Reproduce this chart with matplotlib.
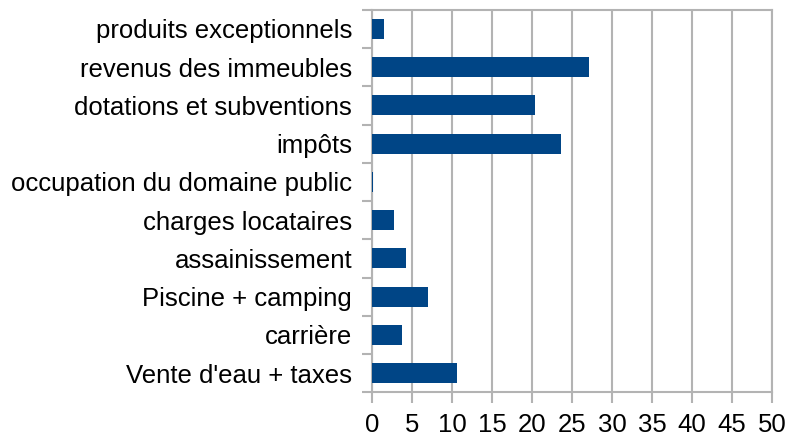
import matplotlib
matplotlib.use('Agg')
from matplotlib import pyplot as plt

# données (de bas en haut)
categories = ["Vente d'eau + taxes", "carrière", "Piscine + camping", "assainissement",
              "charges locataires", "occupation du domaine public", "impôts",
              "dotations et subventions", "revenus des immeubles", "produits exceptionnels"]
values = [10.6, 3.8, 6.95, 4.2, 2.7, 0.1, 23.6, 20.35, 27.1, 1.45]
x_ticks = [0, 5, 10, 15, 20, 25, 30, 35, 40, 45, 50]

plt.rcParams['font.family'] = ['Liberation Sans', 'DejaVu Sans']

fig = plt.figure(figsize=(7.87, 4.4), dpi=100)
ax = fig.add_axes([0.4727, 0.1084, 0.5084, 0.8694])

pos = list(range(len(categories)))
ax.barh(pos, values, height=0.52, color='#004586', zorder=3)

ax.set_xlim(0, 50)
ax.set_ylim(-0.5, len(categories) - 0.5)
ax.set_xticks(x_ticks)
ax.set_xticklabels([str(t) for t in x_ticks], fontsize=18.5)
ax.set_yticks(pos)
ax.set_yticklabels(categories, fontsize=18.5)

# petits traits entre les catégories
ax.set_yticks([p - 0.5 for p in pos] + [len(categories) - 0.5], minor=True)
ax.tick_params(axis='y', which='major', length=0, pad=14.4)
ax.tick_params(axis='y', which='minor', length=7.5, color='#b3b3b3', width=1.5)
ax.tick_params(axis='x', length=8, color='#b3b3b3', width=1.5, pad=7)

ax.grid(axis='x', color='#b3b3b3', linewidth=1.5, zorder=0)
for s in ax.spines.values():
    s.set_color('#b3b3b3')
    s.set_linewidth(1.5)

fig.savefig('out.png', dpi=100)
